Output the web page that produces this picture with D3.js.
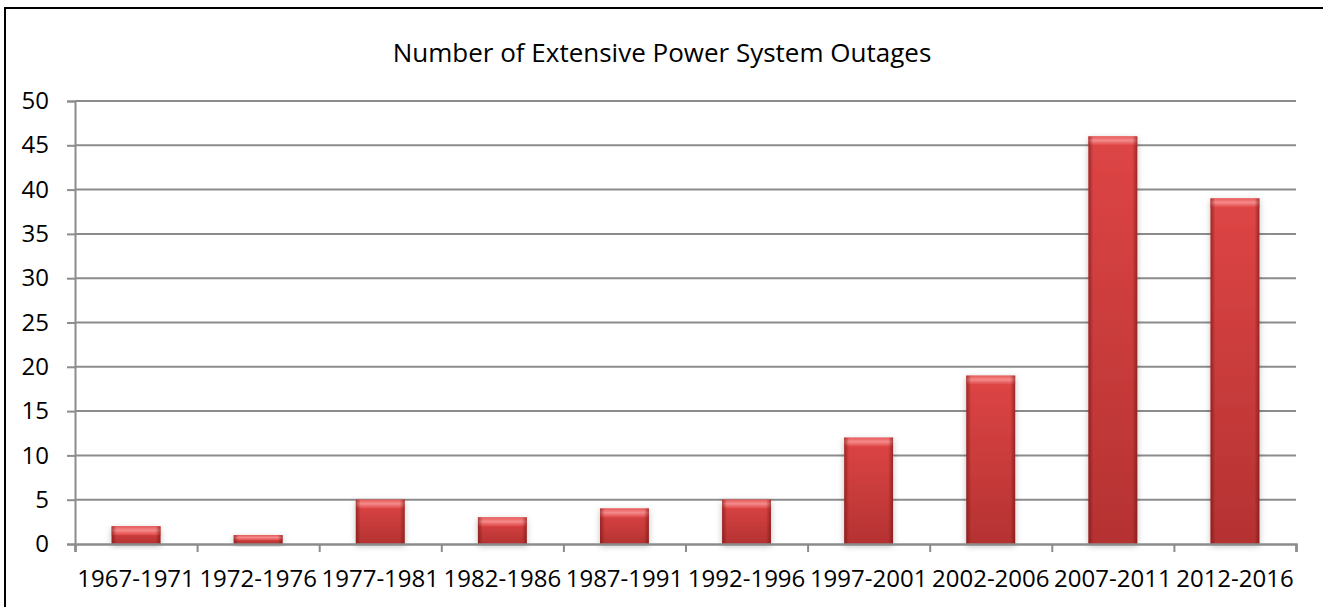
<!DOCTYPE html>
<html>
<head>
<meta charset="utf-8">
<script src="https://cdn.jsdelivr.net/npm/d3@7/dist/d3.min.js"></script>
<style>
  body { margin: 0; background: #fff; }
  svg { display: block; font-family: "Open Sans", "Noto Sans", sans-serif; }
</style>
</head>
<body>
<svg id="chart" width="1323" height="607"></svg>
<script>
const periods = ["1967-1971", "1972-1976", "1977-1981", "1982-1986", "1987-1991",
                 "1992-1996", "1997-2001", "2002-2006", "2007-2011", "2012-2016"];
const outages = [2, 1, 5, 3, 4, 5, 12, 19, 46, 39];
const yTicks = [0, 5, 10, 15, 20, 25, 30, 35, 40, 45, 50];
const chartTitle = "Number of Extensive Power System Outages";

const svg = d3.select("#chart");

const plotLeft = 75, plotRight = 1296, plotTop = 101, plotBottom = 544;

// outer frame (right/bottom edges fall outside the picture)
svg.append("rect")
  .attr("x", 5).attr("y", 8)
  .attr("width", 1340).attr("height", 620)
  .attr("fill", "none")
  .attr("stroke", "#000")
  .attr("stroke-width", 2);

const defs = svg.append("defs");

const vert = defs.append("linearGradient")
  .attr("id", "barBody").attr("x1", 0).attr("y1", 0).attr("x2", 0).attr("y2", 1);
vert.append("stop").attr("offset", "0%").attr("stop-color", "#de4545");
vert.append("stop").attr("offset", "100%").attr("stop-color", "#b53232");

const edges = defs.append("linearGradient")
  .attr("id", "barEdges").attr("x1", 0).attr("y1", 0).attr("x2", 1).attr("y2", 0);
edges.append("stop").attr("offset", "0%").attr("stop-color", "#6a0d0d").attr("stop-opacity", 0.55);
edges.append("stop").attr("offset", "10%").attr("stop-color", "#6a0d0d").attr("stop-opacity", 0);
edges.append("stop").attr("offset", "90%").attr("stop-color", "#6a0d0d").attr("stop-opacity", 0);
edges.append("stop").attr("offset", "100%").attr("stop-color", "#6a0d0d").attr("stop-opacity", 0.55);

const bevel = defs.append("linearGradient")
  .attr("id", "barTop").attr("x1", 0).attr("y1", 0).attr("x2", 0).attr("y2", 1);
bevel.append("stop").attr("offset", "0%").attr("stop-color", "#e85a5a");
bevel.append("stop").attr("offset", "45%").attr("stop-color", "#f58a8a");
bevel.append("stop").attr("offset", "100%").attr("stop-color", "#de4545");

const shadow = defs.append("filter")
  .attr("id", "glow").attr("x", "-30%").attr("y", "-30%").attr("width", "160%").attr("height", "160%");
shadow.append("feDropShadow")
  .attr("dx", 0).attr("dy", 2).attr("stdDeviation", 3)
  .attr("flood-color", "#000").attr("flood-opacity", 0.25);

// title
svg.append("text")
  .attr("x", 662)
  .attr("y", 62)
  .attr("text-anchor", "middle")
  .attr("font-size", 26)
  .attr("fill", "#000")
  .text(chartTitle);

const y = d3.scaleLinear().domain([0, 50]).range([plotBottom, plotTop]);
const x = d3.scaleBand().domain(periods).range([plotLeft, plotRight])
  .paddingInner(0.6).paddingOuter(0.3);
const xEdge = d3.scaleLinear().domain([0, periods.length]).range([plotLeft, plotRight]);

// gridlines + y axis
const yAxis = svg.append("g")
  .attr("transform", `translate(${plotLeft},0)`)
  .call(d3.axisLeft(y).tickValues(yTicks).tickSize(8).tickPadding(18));
yAxis.select(".domain").attr("stroke", "#8c8c8c").attr("stroke-width", 2);
yAxis.selectAll(".tick line").attr("stroke", "#8c8c8c").attr("stroke-width", 2);
yAxis.selectAll(".tick text").attr("font-size", 24).attr("fill", "#000")
  .attr("font-family", "'Open Sans', sans-serif");

svg.append("g")
  .selectAll("line")
  .data(yTicks.filter(t => t > 0))
  .join("line")
  .attr("x1", plotLeft).attr("x2", plotRight)
  .attr("y1", d => y(d)).attr("y2", d => y(d))
  .attr("stroke", "#8c8c8c")
  .attr("stroke-width", 2);

// bars
const bars = svg.append("g")
  .selectAll("g")
  .data(periods.map((p, i) => ({ p, v: outages[i] })))
  .join("g");

bars.append("rect")
  .attr("x", d => x(d.p)).attr("y", d => y(d.v))
  .attr("width", x.bandwidth()).attr("height", d => y(0) - y(d.v))
  .attr("fill", "url(#barBody)")
  .attr("filter", "url(#glow)");

bars.append("rect")
  .attr("x", d => x(d.p)).attr("y", d => y(d.v))
  .attr("width", x.bandwidth()).attr("height", d => Math.min(9, (y(0) - y(d.v)) * 0.6))
  .attr("fill", "url(#barTop)");

bars.append("rect")
  .attr("x", d => x(d.p)).attr("y", d => y(d.v))
  .attr("width", x.bandwidth()).attr("height", d => y(0) - y(d.v))
  .attr("fill", "url(#barEdges)");

// x axis
const xTicks = svg.append("g")
  .attr("transform", `translate(0,${plotBottom})`)
  .call(d3.axisBottom(xEdge).ticks(periods.length).tickSize(8).tickFormat(""));
xTicks.select(".domain").attr("stroke", "#8c8c8c").attr("stroke-width", 2.5);
xTicks.selectAll(".tick line").attr("stroke", "#8c8c8c").attr("stroke-width", 2);

const xLabels = svg.append("g")
  .attr("transform", `translate(0,${plotBottom})`)
  .call(d3.axisBottom(x).tickSize(0).tickPadding(26));
xLabels.select(".domain").remove();
xLabels.selectAll(".tick text").attr("font-size", 24).attr("fill", "#000")
  .attr("font-family", "'Open Sans', sans-serif");
</script>
</body>
</html>
